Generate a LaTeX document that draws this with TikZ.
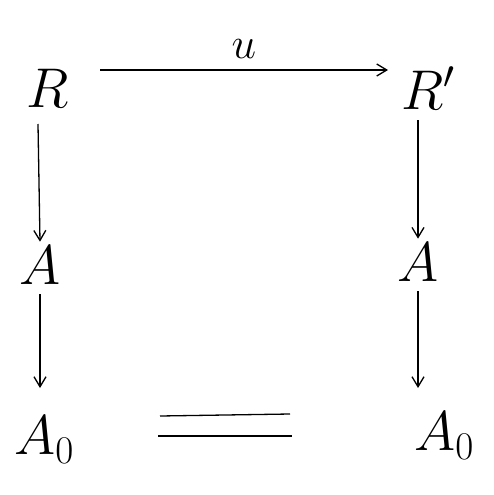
\documentclass[tikz,border=0pt]{standalone}
\usepackage{fix-cm}
\usetikzlibrary{arrows.meta}
\begin{document}
\begin{tikzpicture}[x=1pt,y=-1pt,
  obj/.style={inner sep=4pt,font=\fontsize{56}{56}\selectfont},
  arr/.style={-{Straight Barb[length=10pt,width=12pt]},line width=1.3pt}]
\useasboundingbox (0,0) rectangle (494,495);
\node[obj] (R) at (48,88) {$R$};
\node[obj] (Rp) at (428,88) {$R'$};
\node[obj] (A1) at (40,265) {$A$};
\node[obj] (A2) at (418,262) {$A$};
\node[obj] (B1) at (44,440) {$A_0$};
\node[obj] (B2) at (444,436) {$A_0$};
\coordinate (u0) at (100,70);
\coordinate (u1) at (388,70);
\coordinate (b1) at (40,388);
\coordinate (b2) at (418,388);
\draw[arr] (u0) -- node[above=8pt,font=\fontsize{44}{44}\selectfont]{$u$} (u1);
\draw[arr] (38,124) -- (A1.north);
\draw[arr] (A1.south) ++(0,6) -- (b1);
\draw[arr] (418,120) -- (A2.north);
\draw[arr] (A2.south) ++(0,6) -- (b2);
\draw[line width=1.3pt] (160,416) -- (290,414);
\draw[line width=1.3pt] (158,436) -- (292,436);
\end{tikzpicture}
\end{document}
